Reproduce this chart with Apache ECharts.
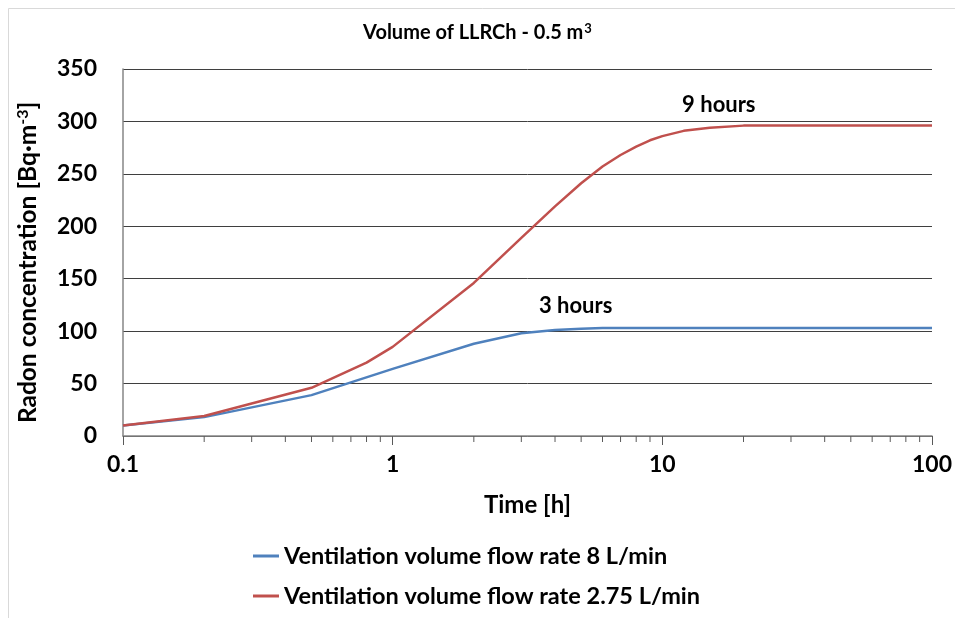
<!DOCTYPE html>
<html>
<head>
<meta charset="utf-8">
<script src="https://cdn.jsdelivr.net/npm/echarts@6/dist/echarts.min.js"></script>
<style>html,body{margin:0;padding:0;background:#fff;}#c{width:955px;height:618px;}</style>
</head>
<body>
<div id="c"></div>
<script>
// ---- data ----
const seriesNames = ['Ventilation volume flow rate 8 L/min', 'Ventilation volume flow rate 2.75 L/min'];
const blueTime = [0.1, 0.2, 0.5, 1, 2, 3, 4, 5, 6, 8, 10, 20, 50, 100];
const blueVal  = [10, 18, 39, 64, 88, 98, 101, 102.3, 103, 103, 103, 103, 103, 103];
const redTime  = [0.1, 0.2, 0.5, 0.8, 1, 2, 3, 4, 5, 6, 7, 8, 9, 10, 12, 15, 20, 30, 50, 100];
const redVal   = [10, 19, 46, 70, 85, 146, 189, 219, 241, 257, 268, 276, 282, 286, 291, 294, 296, 296, 296, 296];
const xMinorTicks = [0.2,0.3,0.4,0.5,0.6,0.7,0.8,0.9, 2,3,4,5,6,7,8,9, 20,30,40,50,60,70,80,90];
const annotations = [
  {text: '3 hours', t: 4.77, v: 103},
  {text: '9 hours', t: 16.2, v: 296}
];

const FONT = 'Lato';
const blueData = blueTime.map((t, i) => [t, blueVal[i]]);
const redData = redTime.map((t, i) => [t, redVal[i]]);

const annLabel = (offY) => ({
  show: true, position: 'inside', formatter: p => p.name, offset: [0, offY],
  fontFamily: FONT, fontSize: 22, fontWeight: 'bold', color: '#000'
});

const chart = echarts.init(document.getElementById('c'), null, {renderer: 'canvas'});
chart.setOption({
  animation: false,
  backgroundColor: '#fff',
  textStyle: {fontFamily: FONT},
  graphic: [{
    type: 'rect', left: 6, top: 6, shape: {width: 1200, height: 1200},
    style: {fill: 'none', stroke: '#d9d9d9', lineWidth: 1}, silent: true, z: -1
  }],
  title: {
    text: 'Volume of LLRCh - 0.5 m{sup|3}',
    left: 'center', top: 17,
    textStyle: {
      fontFamily: FONT, fontSize: 20, fontWeight: 'bold', color: '#000',
      rich: {sup: {fontFamily: FONT, fontSize: 13, fontWeight: 'bold', color: '#000', verticalAlign: 'top', padding: [0, 0, 9, 1]}}
    }
  },
  grid: {left: 123, right: 22, top: 69, bottom: 182, containLabel: false},
  legend: {
    orient: 'vertical', left: 248, top: 539, itemGap: 16,
    icon: 'rect', itemWidth: 26, itemHeight: 3,
    data: seriesNames,
    textStyle: {fontFamily: FONT, fontSize: 23.5, fontWeight: 'bold', color: '#000'}
  },
  xAxis: {
    type: 'log', logBase: 10, min: 0.1, max: 100,
    name: 'Time [h]', nameLocation: 'middle', nameGap: 57,
    nameTextStyle: {fontFamily: FONT, fontSize: 24, fontWeight: 'bold', color: '#000'},
    axisLine: {lineStyle: {color: '#868686', width: 1.5}},
    axisTick: {show: true, length: 9, lineStyle: {color: '#595959', width: 1}},
    axisLabel: {
      margin: 17, fontFamily: FONT, fontSize: 23, fontWeight: 'bold', color: '#000',
      formatter: v => String(+v.toPrecision(6)),
      showMinLabel: true, showMaxLabel: true
    },
    splitLine: {show: false}
  },
  yAxis: {
    type: 'value', min: 0, max: 350, interval: 50,
    name: 'Radon concentration [Bq·m{sup|-3}]', nameLocation: 'middle', nameGap: 81,
    nameTextStyle: {
      fontFamily: FONT, fontSize: 24.5, fontWeight: 'bold', color: '#000',
      padding: [0, 20, 0, 0],
      rich: {sup: {fontFamily: FONT, fontSize: 16, fontWeight: 'bold', color: '#000', verticalAlign: 'top', padding: [0, 0, 11, 0]}}
    },
    axisLine: {show: true, lineStyle: {color: '#868686', width: 1.5}},
    axisTick: {show: false},
    axisLabel: {margin: 26, fontFamily: FONT, fontSize: 23, fontWeight: 'bold', color: '#000'},
    splitLine: {show: true, lineStyle: {color: '#3f3f3f', width: 1}}
  },
  series: [
    {
      name: seriesNames[0], type: 'line', data: blueData,
      symbol: 'none', smooth: false,
      lineStyle: {color: '#4F81BD', width: 2.5}, itemStyle: {color: '#4F81BD'},
      markPoint: {
        symbol: 'circle', symbolSize: 1, silent: true,
        itemStyle: {color: 'rgba(0,0,0,0)'},
        label: annLabel(-22),
        data: [{name: annotations[0].text, coord: [annotations[0].t, annotations[0].v]}]
      },
      z: 3
    },
    {
      name: seriesNames[1], type: 'line', data: redData,
      symbol: 'none', smooth: false,
      lineStyle: {color: '#C0504D', width: 2.5}, itemStyle: {color: '#C0504D'},
      markPoint: {
        symbol: 'circle', symbolSize: 1, silent: true,
        itemStyle: {color: 'rgba(0,0,0,0)'},
        label: annLabel(-21),
        data: [{name: annotations[1].text, coord: [annotations[1].t, annotations[1].v]}]
      },
      z: 3
    },
    {
      name: 'minorTicks', type: 'custom', silent: true,
      data: xMinorTicks.map(t => [t, 0]),
      clip: false,
      renderItem: function (params, api) {
        const p = api.coord([api.value(0), 0]);
        return {
          type: 'line',
          shape: {x1: p[0], y1: p[1], x2: p[0], y2: p[1] + 6},
          style: {stroke: '#595959', lineWidth: 1}
        };
      },
      z: 1
    }
  ]
});
</script>
</body>
</html>
